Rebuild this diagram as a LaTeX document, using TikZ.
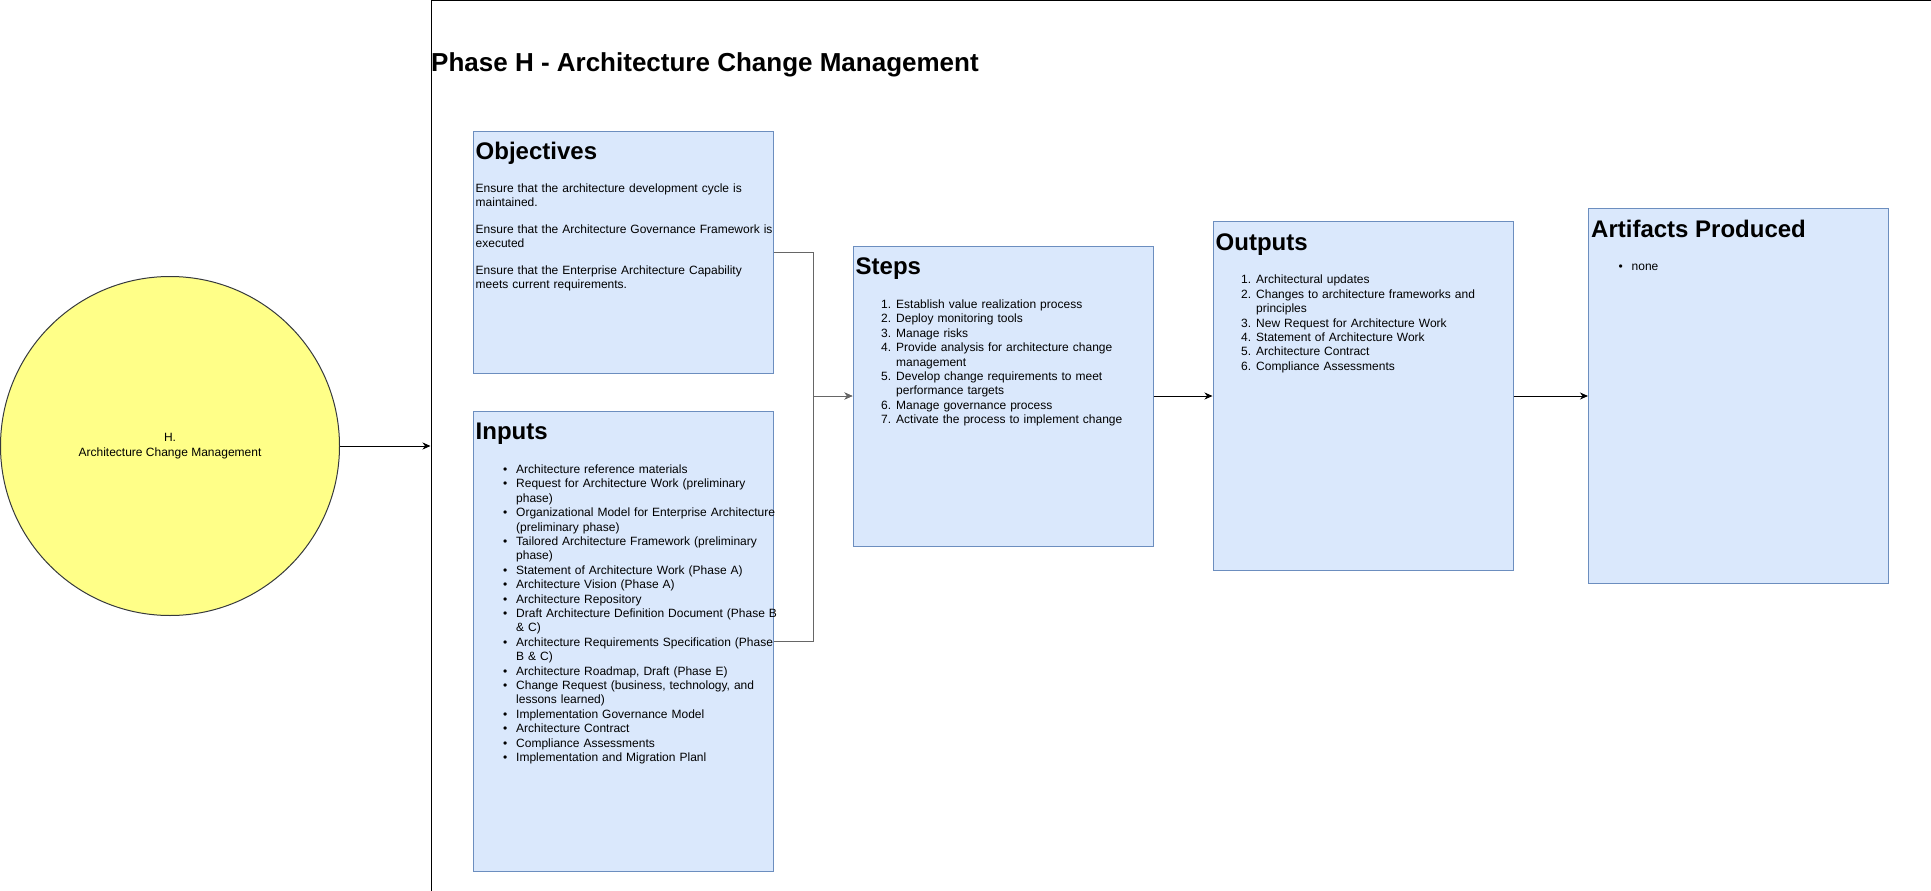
\documentclass[tikz,border=0pt]{standalone}
\usepackage{fontspec}
\setmainfont{Liberation Sans}
\usetikzlibrary{arrows.meta}
\definecolor{boxfill}{HTML}{DAE8FC}
\definecolor{boxline}{HTML}{6C8EBF}
\definecolor{circfill}{HTML}{FFFF88}
\definecolor{circline}{HTML}{36393D}
\newcounter{itemno}
\newenvironment{dotlist}{\begin{list}{\textbullet}{\setlength{\leftmargin}{40pt}\setlength{\labelwidth}{30pt}\setlength{\labelsep}{9pt}\setlength{\itemsep}{0pt}\setlength{\parsep}{0pt}\setlength{\topsep}{0pt}\setlength{\partopsep}{0pt}}}{\end{list}}
\newenvironment{numlist}{\begin{list}{\arabic{itemno}.}{\usecounter{itemno}\setlength{\leftmargin}{40pt}\setlength{\labelwidth}{30pt}\setlength{\labelsep}{5pt}\setlength{\itemsep}{0pt}\setlength{\parsep}{0pt}\setlength{\topsep}{0pt}\setlength{\partopsep}{0pt}}}{\end{list}}
\tikzset{
  card/.style={draw=boxline, fill=boxfill, line width=1pt, anchor=north west, inner sep=0, minimum width=300pt},
  cardhead/.style={anchor=base west, inner sep=0, font=\bfseries\fontsize{24pt}{28pt}\selectfont},
  cardtext/.style={anchor=base west, inner sep=0, text width=320pt, align=left, font=\fontsize{12pt}{14.4pt}\selectfont},
  arrow/.style={line width=1pt, -{Stealth[length=8pt,width=7pt,inset=2.5pt]}},
  elbow/.style={arrow, draw=black!60}
}
\begin{document}
\begin{tikzpicture}[x=1pt, y=-1pt]
    \useasboundingbox (0,0) rectangle (1931,891);
    \node[circle, draw=circline, fill=circfill, line width=1pt, minimum size=339pt, inner sep=0, align=center, font=\fontsize{12pt}{15pt}\selectfont] (C) at (170,446) {H.\\Architecture Change Management};
    \node[draw=black, line width=1pt, anchor=north west, inner sep=0, minimum width=1500pt, minimum height=890pt] (F) at (430.5,0.5) {};
    \node[anchor=base west, inner sep=0, font=\bfseries\fontsize{26pt}{31pt}\selectfont] (T) at (431,72) {Phase H - Architecture Change Management};
    \node[card, minimum height=242pt] (Obj) at (472.5,130.5) {};
    \node[card, minimum height=460pt] (Inp) at (472.5,410.5) {};
    \node[card, minimum height=300pt] (Stp) at (852.5,245.5) {};
    \node[card, minimum height=349pt] (Out) at (1212.5,221) {};
    \node[card, minimum height=375pt] (Art) at (1588,208) {};
    \foreach \b/\t in {Obj/Objectives, Inp/Inputs, Stp/Steps, Out/Outputs, Art/Artifacts Produced}
        \node[cardhead] (\b H) at ([shift={(3pt,-29pt)}]\b.north west) {\t};
    \node[cardtext] (ObjB) at ([shift={(3pt,-62pt)}]Obj.north west) {Ensure that the architecture development cycle is\\maintained.\\[12pt]Ensure that the Architecture Governance Framework is\\executed\\[12pt]Ensure that the Enterprise Architecture Capability\\meets current requirements.};
    \node[cardtext] (InpB) at ([shift={(3.5pt,-48.5pt)}]Inp.north west) {\begin{dotlist}
        \item Architecture reference materials
        \item Request for Architecture Work (preliminary\newline phase)
        \item Organizational Model for Enterprise Architecture\newline (preliminary phase)
        \item Tailored Architecture Framework (preliminary\newline phase)
        \item Statement of Architecture Work (Phase A)
        \item Architecture Vision (Phase A)
        \item Architecture Repository
        \item Draft Architecture Definition Document (Phase B\newline \& C)
        \item Architecture Requirements Specification (Phase\newline B \& C)
        \item Architecture Roadmap, Draft (Phase E)
        \item Change Request (business, technology, and\newline lessons learned)
        \item Implementation Governance Model
        \item Architecture Contract
        \item Compliance Assessments
        \item Implementation and Migration Planl
    \end{dotlist}};
    \node[cardtext] (StpB) at ([shift={(3.5pt,-48.5pt)}]Stp.north west) {\begin{numlist}
        \item Establish value realization process
        \item Deploy monitoring tools
        \item Manage risks
        \item Provide analysis for architecture change\newline management
        \item Develop change requirements to meet\newline performance targets
        \item Manage governance process
        \item Activate the process to implement change
    \end{numlist}};
    \node[cardtext] (OutB) at ([shift={(3.5pt,-48.5pt)}]Out.north west) {\begin{numlist}
        \item Architectural updates
        \item Changes to architecture frameworks and\newline principles
        \item New Request for Architecture Work
        \item Statement of Architecture Work
        \item Architecture Contract
        \item Compliance Assessments
    \end{numlist}};
    \node[cardtext] (ArtB) at ([shift={(3.5pt,-48.5pt)}]Art.north west) {\begin{dotlist}
        \item none
    \end{dotlist}};
    \draw[arrow] (C.east) -- (C.east -| F.west);
    \foreach \i in {Obj,Inp}
        \draw[elbow] (\i.east) -- ++(40,0) |- (Stp.west);
    \foreach \a/\b in {Stp/Out,Out/Art}
        \draw[arrow] (\a.east) -- (\a.east -| \b.west);
\end{tikzpicture}
\end{document}
